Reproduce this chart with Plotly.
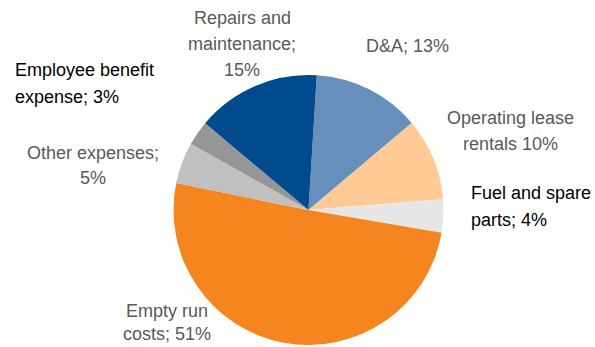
import plotly.graph_objects as go

# Cost structure shares, clockwise from 12 o'clock
categories = [
    "D&A",
    "Operating lease rentals",
    "Fuel and spare parts",
    "Empty run costs",
    "Other expenses",
    "Employee benefit expense",
    "Repairs and maintenance",
]
shares = [13, 10, 4, 51, 5, 3, 15]
slice_colors = ["#678FBB", "#FFCA96", "#E6E6E6", "#F5861F", "#C0C0C0", "#969696", "#004A8D"]

# Label text per slice, one entry per line; {} takes the share
label_lines = [
    ["D&A; {}%"],
    ["Operating lease", "rentals {}%"],
    ["Fuel and spare", "parts; {}%"],
    ["Empty run", "costs; {}%"],
    ["Other expenses;", "{}%"],
    ["Employee benefit", "expense; {}%"],
    ["Repairs and", "maintenance;", "{}%"],
]

W, H = 595, 347

# Label placement in pixels: (x, first line y, line gap, anchor, colour)
label_layout = [
    (407, 46, 26, "center", "#595959"),
    (510, 118, 26, "center", "#595959"),
    (469, 193, 27, "left", "#000000"),
    (167, 311, 22.5, "center", "#595959"),
    (93, 153, 25, "center", "#595959"),
    (13, 70, 27, "left", "#000000"),
    (242, 18, 26, "center", "#595959"),
]

cx, cy, r = 308.5, 210, 135

fig = go.Figure(
    go.Pie(
        labels=categories,
        values=shares,
        sort=False,
        direction="clockwise",
        rotation=3.5,
        textinfo="none",
        hoverinfo="label+percent",
        marker=dict(colors=slice_colors, line=dict(width=0)),
        domain=dict(x=[(cx - r) / W, (cx + r) / W], y=[(H - cy - r) / H, (H - cy + r) / H]),
        showlegend=False,
    )
)

annotations = []
for lines, share, (x, y0, gap, anchor, color) in zip(label_lines, shares, label_layout):
    for i, line in enumerate(lines):
        text = line.format(share) if "{}" in line else line
        annotations.append(
            dict(
                text=text,
                x=x / W,
                y=1 - (y0 + i * gap) / H,
                xref="paper",
                yref="paper",
                xanchor=anchor,
                yanchor="middle",
                showarrow=False,
                font=dict(family="Liberation Sans, Arial, sans-serif", size=18, color=color),
            )
        )

fig.update_layout(
    width=W,
    height=H,
    margin=dict(l=0, r=0, t=0, b=0),
    paper_bgcolor="white",
    plot_bgcolor="white",
    annotations=annotations,
)

fig.write_html("out.html")
